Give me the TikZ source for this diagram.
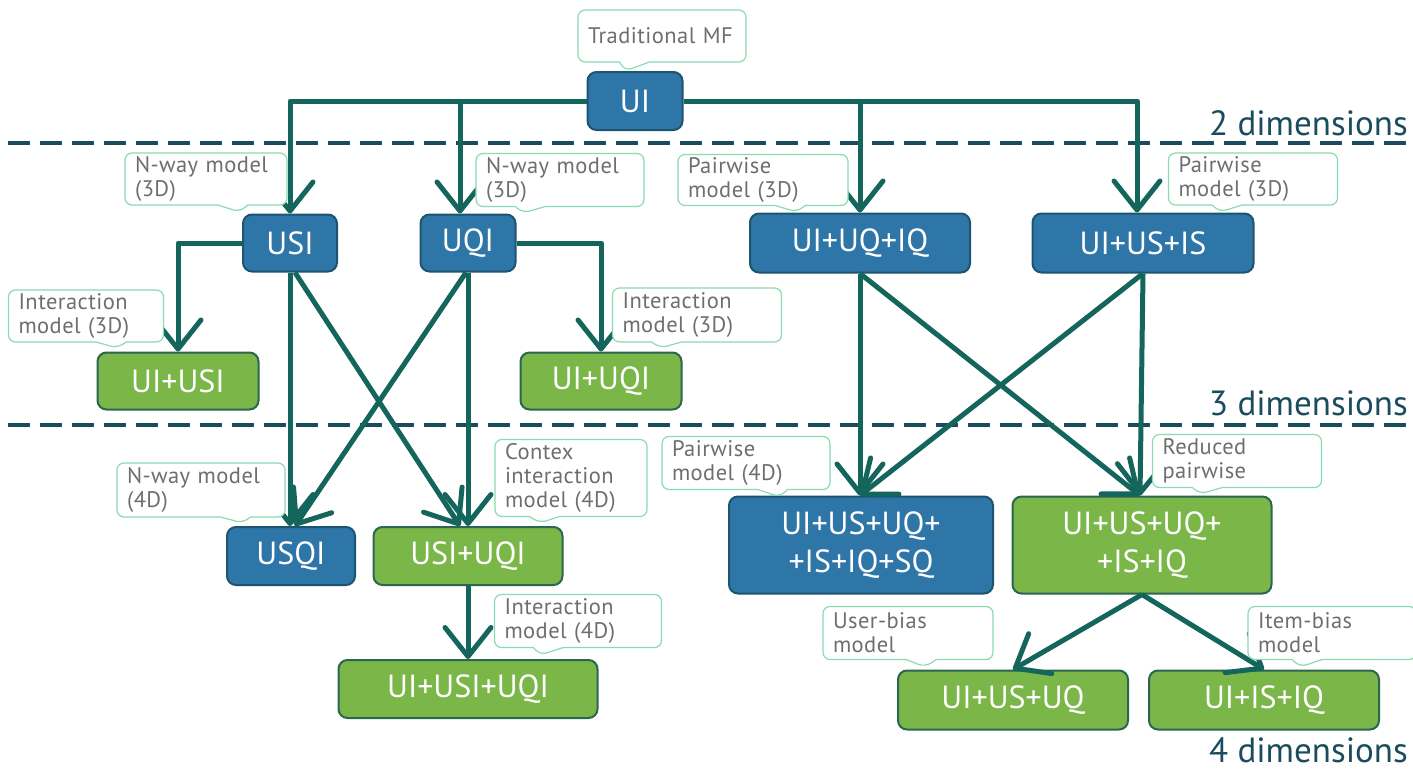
\documentclass[tikz,border=0pt]{standalone}
\usepackage{fontspec}
\setmainfont{PT Sans}
\newfontfamily\labelfont[LetterSpace=2]{PT Sans}
\usetikzlibrary{shapes.callouts,arrows.meta}
\definecolor{bluefill}{HTML}{2E75A8}
\definecolor{blueline}{HTML}{1D5570}
\definecolor{greenfill}{HTML}{7AB648}
\definecolor{greenline}{HTML}{2A6650}
\definecolor{arrowc}{HTML}{14655B}
\definecolor{dashc}{HTML}{1B4C5E}
\definecolor{calloutc}{HTML}{8ADBB0}
\definecolor{labelc}{HTML}{6E6E6E}
\tikzset{
  box/.style={line width=2pt, rounded corners=9pt, text=white, inner sep=0pt,
    font=\fontsize{32}{38}\selectfont, align=center},
  bluebox/.style={box, draw=blueline, fill=bluefill},
  greenbox/.style={box, draw=greenline, fill=greenfill},
  arr/.style={draw=arrowc, line width=5pt, line join=round,
    -{Straight Barb[length=29pt,width=46pt,round]}},
  dashline/.style={draw=dashc, line width=4pt, dash pattern=on 22pt off 10pt},
  dimlabel/.style={text=dashc, font=\fontsize{35}{38}\selectfont, anchor=east, inner sep=0pt},
  call/.style={rectangle callout, draw=calloutc, fill=white, line width=1.2pt,
    rounded corners=7pt, text=labelc, font=\labelfont\fontsize{22.5}{24}\selectfont,
    align=left, inner xsep=10pt, inner ysep=2pt, callout pointer width=30pt}
}
\begin{document}
\begin{tikzpicture}[x=1pt,y=-1pt]
\useasboundingbox[fill=white] (0,0) rectangle (1413,771);

% dashed separators
\draw[dashline] (8,143) -- (1413,143);
\draw[dashline] (8,425) -- (1413,425);
\node[dimlabel] (d2) at (1408,123) {2 dimensions};
\node[dimlabel] (d3) at (1408,403) {3 dimensions};
\node[dimlabel] (d4) at (1408,750) {4 dimensions};

% boxes
\node[bluebox, minimum width=95, minimum height=58] (ui) at (635,101) {UI};
\node[bluebox, minimum width=94, minimum height=57] (usi) at (290,243) {USI};
\node[bluebox, minimum width=95, minimum height=57] (uqi) at (468,243) {UQI};
\node[bluebox, minimum width=220, minimum height=59] (uiuqiq) at (860,243) {UI+UQ+IQ};
\node[bluebox, minimum width=221, minimum height=59] (uiusis) at (1143,243) {UI+US+IS};
\node[greenbox, minimum width=161, minimum height=57] (uiusi) at (178,381) {UI+USI};
\node[greenbox, minimum width=161, minimum height=57] (uiuqi) at (601,381) {UI+UQI};
\node[bluebox, minimum width=128, minimum height=58] (usqi) at (291,556) {USQI};
\node[greenbox, minimum width=189, minimum height=58] (usiuqi) at (468,556) {USI+UQI};
\node[bluebox, minimum width=264, minimum height=97] (bfour) at (861,545) {UI+US+UQ+\\+IS+IQ+SQ};
\node[greenbox, minimum width=259, minimum height=97] (gfour) at (1142,545) {UI+US+UQ+\\+IS+IQ};
\node[greenbox, minimum width=259, minimum height=58] (uiusiuqi) at (468,689) {UI+USI+UQI};
\node[greenbox, minimum width=230, minimum height=59] (uiusuq) at (1013,700) {UI+US+UQ};
\node[greenbox, minimum width=230, minimum height=59] (uiisiq) at (1264,700) {UI+IS+IQ};

% connectors
\draw[arr] (ui.west) -| (usi.north);
\draw[arr] (ui.west) -| ([xshift=-8pt]uqi.north);
\draw[arr] (ui.east) -| (uiuqiq.north);
\draw[arr] (ui.east) -| ([xshift=-6pt]uiusis.north);
\draw[arr] (usi.west) -| (uiusi.north);
\draw[arr] (uqi.east) -| (uiuqi.north);
\draw[arr] (usi.south) -- ([xshift=-1pt]usqi.north);
\draw[arr] ([xshift=5pt]usi.south) -- ([xshift=-8pt]usiuqi.north);
\draw[arr] (uqi.south) -- (usiuqi.north);
\draw[arr] ([xshift=-2pt]uqi.south) -- ([xshift=4pt]usqi.north);
\draw[arr] (usiuqi.south) -- (uiusiuqi.north);
\draw[arr] (uiuqiq.south) -- ([xshift=-1pt]bfour.north);
\draw[arr] (uiuqiq.south) -- ([xshift=-2pt]gfour.north);
\draw[arr] (uiusis.south) -- ([xshift=-1pt]bfour.north);
\draw[arr] (uiusis.south) -- ([xshift=-2pt]gfour.north);
\draw[arr] (gfour.south) -- (uiusuq.north);
\draw[arr] (gfour.south) -- (uiisiq.north);

% callouts
\node[call, minimum width=168, minimum height=52, text width=148,
  callout absolute pointer={(625,71)}] (ctmf) at (662,36) {Traditional MF};
\node[call, minimum width=162, minimum height=52, text width=142,
  callout absolute pointer={(240,212)}] (cnw3a) at (206,179) {N-way model\\(3D)};
\node[call, minimum width=168, minimum height=53, text width=148,
  callout absolute pointer={(523,213)}] (cnw3b) at (560,180) {N-way model\\(3D)};
\node[call, minimum width=170, minimum height=51, text width=150,
  callout absolute pointer={(797,212)}] (cpw3a) at (763,180) {Pairwise\\model (3D)};
\node[call, minimum width=169, minimum height=52, text width=149,
  callout absolute pointer={(1220,212)}] (cpw3b) at (1253,179) {Pairwise\\model (3D)};
\node[call, minimum width=155, minimum height=52, text width=135,
  callout absolute pointer={(117,348)}] (cint3a) at (86,316) {Interaction\\model (3D)};
\node[call, minimum width=169, minimum height=54, text width=149,
  callout absolute pointer={(660,348)}] (cint3b) at (697,315) {Interaction\\model (3D)};
\node[call, minimum width=168, minimum height=54, text width=148,
  callout absolute pointer={(243,523)}] (cnw4) at (201,490) {N-way model\\(4D)};
\node[call, minimum width=152, minimum height=77, text width=132,
  callout absolute pointer={(540,523)}] (ccontex) at (571,478) {Contex\\interaction\\model (4D)};
\node[call, minimum width=168, minimum height=53, text width=148,
  callout absolute pointer={(780,497)}] (cpw4) at (746,463) {Pairwise\\model (4D)};
\node[call, minimum width=169, minimum height=53, text width=149,
  callout absolute pointer={(1200,494)}] (cred) at (1237,461) {Reduced\\pairwise};
\node[call, minimum width=167, minimum height=53, text width=147,
  callout absolute pointer={(540,655)}] (cint4) at (578,621) {Interaction\\model (4D)};
\node[call, minimum width=170, minimum height=53, text width=150,
  callout absolute pointer={(925,667)}] (cub) at (908,633) {User-bias\\model};
\node[call, minimum width=168, minimum height=53, text width=148,
  callout absolute pointer={(1300,667)}] (cib) at (1332,633) {Item-bias\\model};
\end{tikzpicture}
\end{document}
